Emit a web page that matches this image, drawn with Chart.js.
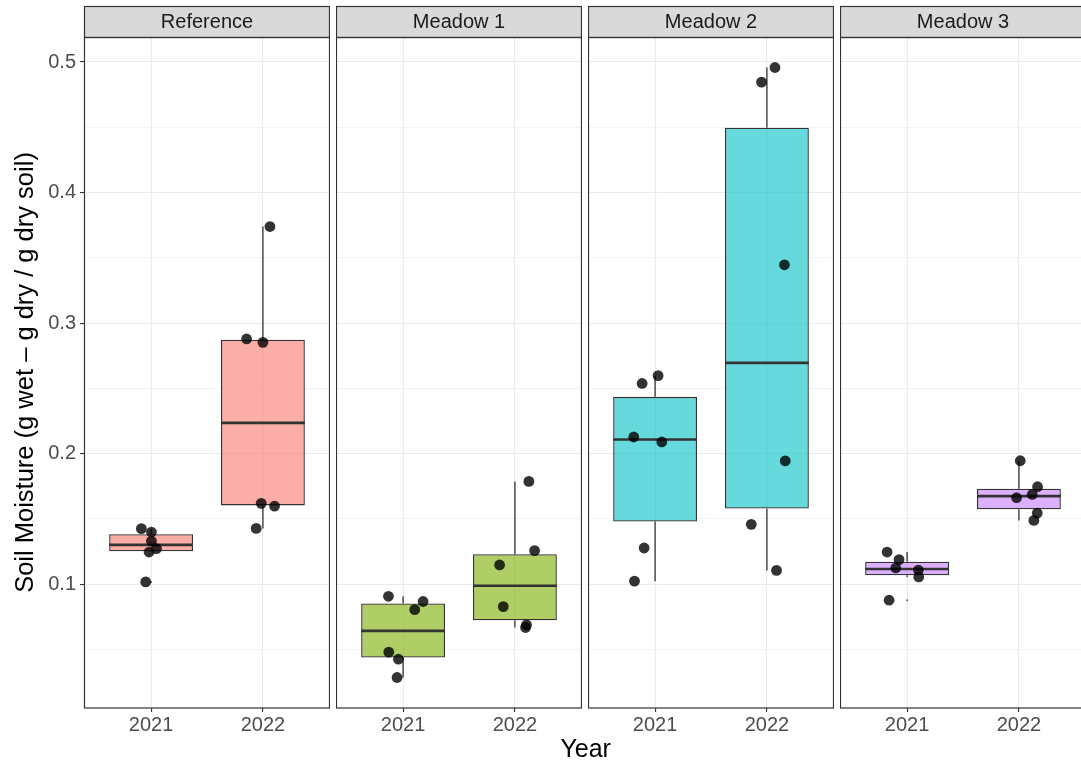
<!DOCTYPE html>
<html>
<head>
<meta charset="utf-8">
<title>Soil moisture by site and year</title>
<script src="https://cdn.jsdelivr.net/npm/chart.js@4.4.1/dist/chart.umd.min.js"></script>
<style>
  html, body { margin: 0; padding: 0; background: #ffffff; overflow: hidden; }
  #fig { position: relative; width: 1081px; height: 765px; overflow: hidden; background: #ffffff; }
  #fig canvas { position: absolute; top: 0; }
  #xtitle {
    position: absolute; left: 485.7px; width: 200px; top: 735.8px;
    text-align: center; font-family: "Liberation Sans", Arial, Helvetica, sans-serif;
    font-size: 25px; line-height: 25px; color: #000000; white-space: nowrap;
  }
</style>
</head>
<body>
<div id="fig">
  <div id="xtitle">Year</div>
</div>
<script>
// ---- data -------------------------------------------------------------
const sites = ['Reference', 'Meadow 1', 'Meadow 2', 'Meadow 3'];
const years = ['2021', '2022'];

// soil moisture samples (g wet − g dry / g dry soil), one list per year
const referenceMoisture = [
  [0.1426, 0.1400, 0.1331, 0.1273, 0.1247, 0.1018],
  [0.3740, 0.2879, 0.2853, 0.1620, 0.1599, 0.1428]
];
const meadow1Moisture = [
  [0.0908, 0.0868, 0.0806, 0.0480, 0.0426, 0.0286],
  [0.1788, 0.1258, 0.1148, 0.0829, 0.0689, 0.0669]
];
const meadow2Moisture = [
  [0.2598, 0.2538, 0.2128, 0.2090, 0.1278, 0.1024],
  [0.4958, 0.4846, 0.3447, 0.1945, 0.1459, 0.1106]
];
const meadow3Moisture = [
  [0.1247, 0.1189, 0.1125, 0.1109, 0.1056, 0.0878],
  [0.1946, 0.1747, 0.1688, 0.1663, 0.1545, 0.1489]
];

// horizontal jitter of each sample, in year-slot units
const referenceJitter = [
  [-0.087, 0.003, 0.003, 0.048, -0.018, -0.048],
  [0.063, -0.146, 0.000, -0.015, 0.104, -0.060]
];
const meadow1Jitter = [
  [-0.131, 0.179, 0.104, -0.128, -0.042, -0.054],
  [0.125, 0.176, -0.137, -0.104, 0.104, 0.095]
];
const meadow2Jitter = [
  [0.027, -0.116, -0.191, 0.060, -0.098, -0.184],
  [0.072, -0.048, 0.157, 0.164, -0.140, 0.086]
];
const meadow3Jitter = [
  [-0.179, -0.072, -0.101, 0.101, 0.104, -0.161],
  [0.012, 0.167, 0.119, -0.021, 0.164, 0.134]
];

const yMajorTicks = [0.1, 0.2, 0.3, 0.4, 0.5];
const yTickLabels = ['0.1', '0.2', '0.3', '0.4', '0.5'];
const yMinorTicks = [0.05, 0.15, 0.25, 0.35, 0.45];

const siteFills = ['#F8766D', '#7CAE00', '#00BFC4', '#C77CFF'];

// ---- layout & style ---------------------------------------------------
const moistureBySite = [referenceMoisture, meadow1Moisture, meadow2Moisture, meadow3Moisture];
const jitterBySite = [referenceJitter, meadow1Jitter, meadow2Jitter, meadow3Jitter];

const FONT = '"Liberation Sans", Arial, Helvetica, sans-serif';
const PANEL_LEFT = [84, 336, 588, 840];
const PANEL_W = 246;
const CANVAS_H = 765;
const PLOT_TOP = 37;
const PLOT_BOTTOM = 708;
const STRIP_TOP = 6;
const Y_AXIS_W = 84;
const BOX_HALF = 0.375;
const FILL_ALPHA = 0.6;
const INK = '#333333';
const Y_TITLE = 'Soil Moisture (g wet – g dry / g dry soil)';

function withAlpha(hex, a) {
  const n = parseInt(hex.slice(1), 16);
  return `rgba(${(n >> 16) & 255},${(n >> 8) & 255},${n & 255},${a})`;
}

// type-7 quantile, as used by R's boxplot stats
function quantile(sorted, p) {
  const h = (sorted.length - 1) * p;
  const lo = Math.floor(h);
  const hi = Math.min(lo + 1, sorted.length - 1);
  return sorted[lo] + (h - lo) * (sorted[hi] - sorted[lo]);
}

function boxStats(values) {
  const s = [...values].sort((a, b) => a - b);
  const q1 = quantile(s, 0.25), med = quantile(s, 0.5), q3 = quantile(s, 0.75);
  const iqr = q3 - q1;
  const loFence = q1 - 1.5 * iqr, hiFence = q3 + 1.5 * iqr;
  const inside = s.filter(v => v >= loFence && v <= hiFence);
  return {
    q1, med, q3,
    lo: Math.min(...inside),
    hi: Math.max(...inside),
    out: s.filter(v => v < loFence || v > hiFence)
  };
}

// shared y range: data range expanded by 5% each side
const allValues = moistureBySite.flat(2);
const dataMin = Math.min(...allValues), dataMax = Math.max(...allValues);
const yPad = (dataMax - dataMin) * 0.05;
const Y_MIN = dataMin - yPad, Y_MAX = dataMax + yPad;

const yGridTicks = [...yMinorTicks, ...yMajorTicks].sort((a, b) => a - b);
const isMajor = v => yMajorTicks.some(t => Math.abs(t - v) < 1e-9);
const majorLabel = v => {
  const k = yMajorTicks.findIndex(t => Math.abs(t - v) < 1e-9);
  return k >= 0 ? yTickLabels[k] : '';
};

const fig = document.getElementById('fig');

sites.forEach((site, i) => {
  const first = i === 0;
  const canvasLeft = first ? PANEL_LEFT[0] - Y_AXIS_W : PANEL_LEFT[i];
  const canvasW = first ? Y_AXIS_W + PANEL_W : PANEL_W;
  const canvas = document.createElement('canvas');
  canvas.width = canvasW;
  canvas.height = CANVAS_H;
  canvas.style.left = canvasLeft + 'px';
  canvas.style.width = canvasW + 'px';
  canvas.style.height = CANVAS_H + 'px';
  fig.insertBefore(canvas, document.getElementById('xtitle'));

  const points = [], outliers = [], medians = [], whiskers = [], boxes = [];
  moistureBySite[i].forEach((vals, yi) => {
    const xc = yi + 1;
    const s = boxStats(vals);
    vals.forEach((v, k) => points.push({ x: xc + jitterBySite[i][yi][k], y: v }));
    s.out.forEach(v => outliers.push({ x: xc, y: v }));
    medians.push({ x: xc - BOX_HALF, y: s.med }, { x: xc + BOX_HALF, y: s.med }, { x: xc, y: null });
    whiskers.push(
      { x: xc, y: s.hi }, { x: xc, y: s.q3 }, { x: xc, y: null },
      { x: xc, y: s.q1 }, { x: xc, y: s.lo }, { x: xc, y: null }
    );
    boxes.push({ x: xc, y: [s.q1, s.q3] });
  });

  const panelDecor = {
    id: 'panelDecor',
    afterDraw(chart) {
      const { ctx, chartArea: a } = chart;
      ctx.save();
      // facet strip
      ctx.fillStyle = '#D9D9D9';
      ctx.fillRect(a.left, STRIP_TOP, a.right - a.left, a.top - STRIP_TOP);
      ctx.strokeStyle = INK;
      ctx.lineWidth = 1.2;
      ctx.strokeRect(a.left + 0.5, STRIP_TOP + 0.5, a.right - a.left - 1, a.top - STRIP_TOP);
      ctx.fillStyle = '#1A1A1A';
      ctx.font = `20px ${FONT}`;
      ctx.textAlign = 'center';
      ctx.textBaseline = 'middle';
      ctx.fillText(site, (a.left + a.right) / 2, (STRIP_TOP + a.top) / 2 + 1);
      // panel border
      ctx.strokeRect(a.left + 0.5, a.top + 0.5, a.right - a.left - 1, a.bottom - a.top - 0.5);
      // y axis title
      if (first) {
        ctx.translate(33, (a.top + a.bottom) / 2);
        ctx.rotate(-Math.PI / 2);
        ctx.fillStyle = '#000000';
        ctx.font = `25.5px ${FONT}`;
        ctx.textAlign = 'center';
        ctx.textBaseline = 'alphabetic';
        ctx.fillText(Y_TITLE, 0, 0);
      }
      ctx.restore();
    }
  };

  new Chart(canvas, {
    type: 'bar',
    data: {
      datasets: [
        {
          type: 'scatter', data: points, order: 0,
          pointRadius: 5.4, pointHoverRadius: 5.4,
          backgroundColor: 'rgba(0,0,0,0.8)', borderWidth: 0
        },
        {
          type: 'scatter', data: outliers, order: 1,
          pointRadius: 1, pointHoverRadius: 1,
          backgroundColor: 'rgba(0,0,0,0.6)', borderWidth: 0
        },
        {
          type: 'line', data: medians, order: 2,
          borderColor: INK, borderWidth: 2.6, pointRadius: 0,
          spanGaps: false, tension: 0, fill: false, borderCapStyle: 'butt'
        },
        {
          type: 'bar', data: boxes, order: 3,
          backgroundColor: withAlpha(siteFills[i], FILL_ALPHA),
          borderColor: INK, borderWidth: 1.3, borderSkipped: false,
          categoryPercentage: 1, barPercentage: 2 * BOX_HALF
        },
        {
          type: 'line', data: whiskers, order: 4,
          borderColor: INK, borderWidth: 1.3, pointRadius: 0,
          spanGaps: false, tension: 0, fill: false, borderCapStyle: 'butt'
        }
      ]
    },
    options: {
      responsive: false,
      animation: false,
      devicePixelRatio: 1,
      events: [],
      layout: { autoPadding: false, padding: { top: PLOT_TOP, left: 0, right: 0, bottom: 0 } },
      plugins: { legend: { display: false }, tooltip: { enabled: false } },
      scales: {
        x: {
          type: 'linear', min: 0.4, max: 2.6, offset: false,
          afterBuildTicks: sc => { sc.ticks = years.map((_, k) => ({ value: k + 1 })); },
          afterFit: sc => { sc.height = CANVAS_H - PLOT_BOTTOM; },
          ticks: {
            callback: v => years[Math.round(v) - 1],
            font: { family: FONT, size: 20 }, color: '#4D4D4D',
            padding: 1, maxRotation: 0, autoSkip: false
          },
          grid: {
            offset: false, color: '#EBEBEB', lineWidth: 1.1,
            tickLength: 4, tickColor: INK, tickWidth: 1.1
          },
          border: { display: false }
        },
        y: {
          type: 'linear', min: Y_MIN, max: Y_MAX,
          afterBuildTicks: sc => { sc.ticks = yGridTicks.map(v => ({ value: v })); },
          afterFit: sc => { sc.width = first ? Y_AXIS_W : 0; },
          ticks: {
            display: first,
            callback: v => majorLabel(v),
            font: { family: FONT, size: 20 }, color: '#4D4D4D', padding: 4
          },
          grid: {
            color: '#EBEBEB',
            lineWidth: ctx => isMajor(ctx.tick.value) ? 1.1 : 0.55,
            drawTicks: first, tickLength: 4,
            tickColor: ctx => isMajor(ctx.tick.value) ? INK : 'rgba(0,0,0,0)',
            tickWidth: 1.1
          },
          border: { display: false }
        }
      }
    },
    plugins: [panelDecor]
  });
});
</script>
</body>
</html>
